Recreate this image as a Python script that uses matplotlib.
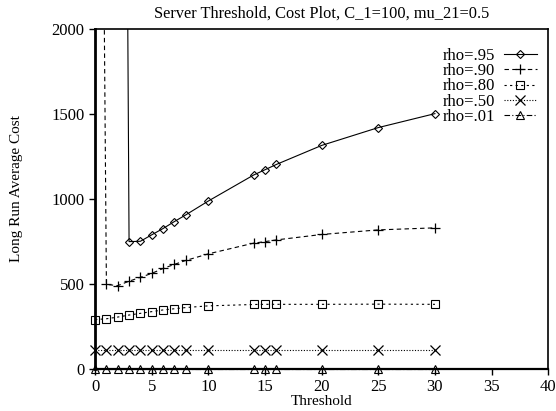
import numpy as np
import matplotlib
matplotlib.use('Agg')
import matplotlib.pyplot as plt

plt.rcParams['font.family'] = ['Liberation Serif', 'DejaVu Serif']

threshold = [0, 1, 2, 3, 4, 5, 6, 7, 8, 10, 14, 15, 16, 20, 25, 30]

# cost values per load; the first few for heavy load blow up off the chart
cost_95 = [15000, 13500, 12000, 750, 752, 790, 827, 868, 907, 989, 1142, 1173, 1204, 1316, 1421, 1503]
cost_90 = [8800, 498, 491, 517, 540, 563, 592, 616, 639, 678, 741, 750, 760, 792, 819, 831]
cost_80 = [291, 296, 306, 318, 328, 338, 348, 355, 362, 372, 380, 381, 381, 381, 382, 381]
cost_50 = [110, 110, 110, 110, 110, 110, 110, 110, 110, 110, 110, 110, 110, 110, 110, 110]
cost_01 = [1, 1, 1, 1, 1, 1, 1, 1, 1, 1, 1, 1, 1, 1, 1, 1]

labels = ['rho=.95', 'rho=.90', 'rho=.80', 'rho=.50', 'rho=.01']

fig = plt.figure(figsize=(5.56, 4.11), dpi=100)
ax = fig.add_axes([0.171, 0.102, 0.815, 0.827])

lw = 0.8
ax.plot(threshold, cost_95, color='black', lw=lw, ls='-', marker='D', ms=4.2,
        mfc='none', mew=0.8, label=labels[0])
ax.plot(threshold, cost_90, color='black', lw=lw, ls=(0, (4, 3)), marker='+', ms=7,
        mew=0.9, label=labels[1])
ax.plot(threshold, cost_80, color='black', lw=lw, ls=(0, (2, 3)), marker='s', ms=6.2,
        mfc='none', mew=0.8, label=labels[2], clip_on=False, zorder=4)
ax.plot(threshold, cost_50, color='black', lw=lw, ls=(0, (1, 1.5)), marker='x', ms=6.5,
        mew=0.9, label=labels[3], clip_on=False, zorder=4)
ax.plot(threshold, cost_01, color='black', lw=lw, ls=(0, (5, 2, 1, 2)), marker='^', ms=6,
        mfc='none', mew=0.8, label=labels[4], clip_on=False, zorder=4)

ax.set_xlim(0, 40)
ax.set_ylim(0, 2000)
ax.set_xticks([0, 5, 10, 15, 20, 25, 30, 35, 40])
ax.set_yticks([0, 500, 1000, 1500, 2000])
ax.tick_params(direction='out', length=4, width=1, labelsize=12)

for s in ax.spines.values():
    s.set_linewidth(1.2)
ax.spines['left'].set_linewidth(2)
ax.spines['bottom'].set_linewidth(1.6)

ax.set_title('Server Threshold, Cost Plot, C_1=100, mu_21=0.5', fontsize=11.8, pad=8)
ax.set_xlabel('Threshold', fontsize=11, labelpad=0)
ax.set_ylabel('Long Run Average Cost', fontsize=11)
ax.yaxis.set_label_coords(-0.158, 0.53)

ax.legend(loc='upper right', frameon=False, markerfirst=False, fontsize=12,
          handlelength=2.0, handletextpad=0.5, labelspacing=-0.04,
          borderaxespad=0.0, bbox_to_anchor=(0.99, 0.965))

fig.savefig('out.png', dpi=100)
